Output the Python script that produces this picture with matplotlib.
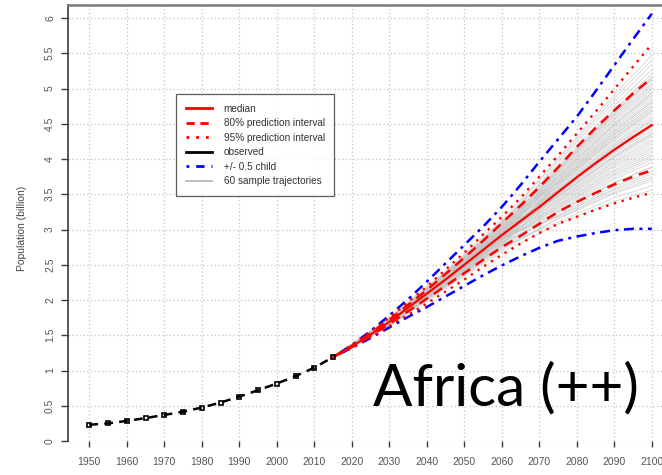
import matplotlib
matplotlib.use("Agg")
import matplotlib.pyplot as plt
from matplotlib.lines import Line2D

# ---------------- data ----------------
obs_years = [1950, 1955, 1960, 1965, 1970, 1975, 1980, 1985, 1990, 1995, 2000, 2005, 2010, 2015]
obs_pop = [0.23, 0.25, 0.285, 0.325, 0.37, 0.415, 0.475, 0.545, 0.63, 0.72, 0.815, 0.92, 1.04, 1.19]

proj_years = [2015, 2020, 2025, 2030, 2035, 2040, 2045, 2050, 2055, 2060,
              2065, 2070, 2075, 2080, 2085, 2090, 2095, 2100]
median = [1.19, 1.34, 1.51, 1.69, 1.89, 2.09, 2.29, 2.50, 2.71, 2.92, 3.12, 3.32, 3.53, 3.74, 3.94, 4.13, 4.31, 4.48]
pi80_low = [1.19, 1.33, 1.49, 1.66, 1.84, 2.02, 2.20, 2.38, 2.57, 2.75, 2.91, 3.08, 3.25, 3.39, 3.52, 3.64, 3.75, 3.84]
pi80_high = [1.19, 1.35, 1.53, 1.72, 1.93, 2.14, 2.37, 2.60, 2.84, 3.09, 3.34, 3.60, 3.88, 4.17, 4.44, 4.69, 4.93, 5.15]
pi95_low = [1.19, 1.32, 1.47, 1.63, 1.79, 1.95, 2.12, 2.29, 2.47, 2.64, 2.80, 2.95, 3.08, 3.18, 3.28, 3.37, 3.45, 3.52]
pi95_high = [1.19, 1.36, 1.55, 1.75, 1.97, 2.19, 2.43, 2.67, 2.93, 3.18, 3.45, 3.75, 4.05, 4.36, 4.67, 4.99, 5.31, 5.63]
child_high = [1.19, 1.36, 1.56, 1.78, 2.01, 2.26, 2.52, 2.78, 3.04, 3.32, 3.63, 3.96, 4.28, 4.60, 4.96, 5.33, 5.70, 6.06]
child_low = [1.19, 1.32, 1.46, 1.61, 1.76, 1.90, 2.05, 2.20, 2.35, 2.49, 2.62, 2.74, 2.84, 2.90, 2.95, 2.99, 3.01, 3.01]

traj_years = [2015, 2030, 2045, 2060, 2075, 2090, 2100]
trajectories = [
    [1.19, 1.63, 2.16, 2.68, 3.08, 3.40, 3.56],
    [1.19, 1.65, 2.21, 2.76, 3.11, 3.45, 3.62],
    [1.19, 1.64, 2.19, 2.73, 3.15, 3.51, 3.69],
    [1.19, 1.67, 2.24, 2.82, 3.18, 3.56, 3.75],
    [1.19, 1.65, 2.21, 2.78, 3.21, 3.61, 3.82],
    [1.19, 1.65, 2.20, 2.75, 3.24, 3.66, 3.89],
    [1.19, 1.67, 2.26, 2.86, 3.25, 3.67, 3.88],
    [1.19, 1.66, 2.22, 2.79, 3.27, 3.71, 3.95],
    [1.19, 1.68, 2.26, 2.87, 3.29, 3.74, 3.99],
    [1.19, 1.66, 2.23, 2.81, 3.31, 3.77, 4.02],
    [1.19, 1.67, 2.25, 2.84, 3.32, 3.79, 4.05],
    [1.19, 1.68, 2.27, 2.89, 3.34, 3.82, 4.08],
    [1.19, 1.67, 2.24, 2.82, 3.35, 3.84, 4.12],
    [1.19, 1.67, 2.26, 2.86, 3.37, 3.87, 4.15],
    [1.19, 1.69, 2.30, 2.94, 3.39, 3.90, 4.18],
    [1.19, 1.68, 2.26, 2.87, 3.40, 3.92, 4.22],
    [1.19, 1.67, 2.25, 2.84, 3.42, 3.95, 4.25],
    [1.19, 1.70, 2.31, 2.95, 3.43, 3.97, 4.28],
    [1.19, 1.68, 2.27, 2.89, 3.45, 4.00, 4.32],
    [1.19, 1.69, 2.29, 2.92, 3.47, 4.03, 4.35],
    [1.19, 1.69, 2.28, 2.90, 3.48, 4.05, 4.38],
    [1.19, 1.70, 2.32, 2.97, 3.50, 4.08, 4.41],
    [1.19, 1.68, 2.26, 2.87, 3.51, 4.10, 4.45],
    [1.19, 1.69, 2.30, 2.94, 3.53, 4.13, 4.48],
    [1.19, 1.71, 2.32, 2.98, 3.55, 4.16, 4.51],
    [1.19, 1.68, 2.27, 2.89, 3.56, 4.18, 4.55],
    [1.19, 1.70, 2.31, 2.95, 3.58, 4.21, 4.58],
    [1.19, 1.69, 2.29, 2.92, 3.59, 4.23, 4.61],
    [1.19, 1.71, 2.33, 3.00, 3.61, 4.26, 4.65],
    [1.19, 1.70, 2.32, 2.97, 3.63, 4.29, 4.68],
    [1.19, 1.69, 2.28, 2.90, 3.64, 4.31, 4.71],
    [1.19, 1.71, 2.34, 3.02, 3.66, 4.34, 4.74],
    [1.19, 1.70, 2.31, 2.95, 3.67, 4.36, 4.78],
    [1.19, 1.71, 2.32, 2.98, 3.69, 4.39, 4.81],
    [1.19, 1.72, 2.35, 3.03, 3.71, 4.42, 4.84],
    [1.19, 1.69, 2.30, 2.94, 3.72, 4.44, 4.88],
    [1.19, 1.71, 2.33, 3.00, 3.74, 4.47, 4.91],
    [1.19, 1.72, 2.36, 3.05, 3.75, 4.49, 4.94],
    [1.19, 1.70, 2.32, 2.97, 3.77, 4.52, 4.98],
    [1.19, 1.71, 2.34, 3.02, 3.79, 4.55, 5.01],
    [1.19, 1.73, 2.37, 3.06, 3.80, 4.57, 5.04],
    [1.19, 1.71, 2.32, 2.98, 3.82, 4.60, 5.07],
    [1.19, 1.73, 2.38, 3.08, 3.83, 4.62, 5.11],
    [1.19, 1.72, 2.35, 3.03, 3.85, 4.65, 5.14],
    [1.19, 1.74, 2.39, 3.11, 3.87, 4.68, 5.17],
    [1.19, 1.71, 2.33, 3.00, 3.88, 4.70, 5.21],
    [1.19, 1.73, 2.38, 3.10, 3.91, 4.75, 5.27],
    [1.19, 1.72, 2.36, 3.05, 3.95, 4.81, 5.34],
    [1.19, 1.75, 2.41, 3.14, 3.98, 4.86, 5.40],
    [1.19, 1.73, 2.38, 3.08, 4.01, 4.91, 5.47],
    [1.19, 1.64, 2.18, 2.71, 3.16, 3.53, 3.72],
    [1.19, 1.68, 2.27, 2.89, 3.19, 3.58, 3.79],
    [1.19, 1.71, 2.34, 3.02, 3.47, 4.03, 4.35],
    [1.19, 1.66, 2.22, 2.79, 3.53, 4.13, 4.48],
    [1.19, 1.73, 2.37, 3.06, 3.56, 4.18, 4.55],
    [1.19, 1.67, 2.25, 2.84, 3.63, 4.29, 4.68],
    [1.19, 1.73, 2.38, 3.10, 3.66, 4.34, 4.74],
    [1.19, 1.65, 2.21, 2.78, 3.69, 4.39, 4.81],
    [1.19, 1.69, 2.29, 2.92, 3.75, 4.49, 4.94],
    [1.19, 1.67, 2.26, 2.86, 3.85, 4.65, 5.14],
]

x_ticks = list(range(1950, 2101, 10))
y_ticks = [0, 0.5, 1, 1.5, 2, 2.5, 3, 3.5, 4, 4.5, 5, 5.5, 6]
y_tick_labels = ["0", "0.5", "1", "1.5", "2", "2.5", "3", "3.5", "4", "4.5", "5", "5.5", "6"]

legend_labels = ["median", "80% prediction interval", "95% prediction interval",
                 "observed", "+/- 0.5 child", "60 sample trajectories"]

# ---------------- figure ----------------
plt.rcParams['font.family'] = ['Liberation Sans', 'DejaVu Sans']
W, H = 662, 475
fig = plt.figure(figsize=(W / 100, H / 100), dpi=100)

left_px, top_px, bottom_px = 67.5, 4.5, 441.0
px_per_year = 3.75
x0 = 1950 - (89.3 - left_px) / px_per_year
x1 = x0 + 606 / px_per_year
ax = fig.add_axes([left_px / W, 1 - bottom_px / H, 606 / W, (bottom_px - top_px) / H])
ax.set_xlim(x0, x1)
ax.set_ylim(0, (bottom_px - top_px) / 70.5)

RED = "#ff0000"
BLUE = "#0000ff"

for tr in trajectories:
    ax.plot(traj_years, tr, color="#c4c4c4", lw=0.6, alpha=0.7, zorder=2)

ax.plot(proj_years, child_high, color=BLUE, lw=1.8, dashes=(1.2, 2.2, 4, 2.2), zorder=3)
ax.plot(proj_years, child_low, color=BLUE, lw=1.8, dashes=(1.2, 2.2, 4, 2.2), zorder=3)
ax.plot(proj_years, pi95_high, color=RED, lw=1.7, dashes=(1, 2.4), zorder=4)
ax.plot(proj_years, pi95_low, color=RED, lw=1.7, dashes=(1, 2.4), zorder=4)
ax.plot(proj_years, pi80_high, color=RED, lw=1.8, dashes=(4, 2.8), zorder=5)
ax.plot(proj_years, pi80_low, color=RED, lw=1.8, dashes=(4, 2.8), zorder=5)
ax.plot(proj_years, median, color=RED, lw=1.6, zorder=6)
ax.plot(obs_years, obs_pop, color="black", lw=1.8, dashes=(3.5, 2.5), marker="s",
        markersize=3.2, markerfacecolor="none", markeredgecolor="black", markeredgewidth=1.2,
        zorder=7)

# grid
ax.set_xticks(x_ticks)
ax.set_yticks(y_ticks)
ax.set_yticklabels(y_tick_labels)
ax.grid(True, color="#c4c4c4", linestyle=(0, (1, 2)), lw=0.9, zorder=0)
ax.set_axisbelow(True)

for s in ["bottom", "right"]:
    ax.spines[s].set_visible(False)
ax.spines["left"].set_color("#3a3a3a")
ax.spines["left"].set_linewidth(1.2)
ax.spines["top"].set_color("#7a7a7a")
ax.spines["top"].set_linewidth(1.8)

ax.tick_params(axis="y", direction="out", length=5, width=1.0, color="#3a3a3a",
               labelsize=7.5, labelcolor="#555555", pad=4)
for lab in ax.get_yticklabels():
    lab.set_rotation(90)
    lab.set_va("center")
ax.tick_params(axis="x", direction="out", length=4.3, width=1.0, color="#3a3a3a",
               labelsize=7.5, labelcolor="#555555", pad=7)

fig.text(22 / W, 1 - 228 / H, "Population (billion)", rotation=90, ha="center", va="center",
         fontsize=7.5, color="#444444")

handles = [
    Line2D([], [], color=RED, lw=2.0),
    Line2D([], [], color=RED, lw=2.0, dashes=(3, 2)),
    Line2D([], [], color=RED, lw=2.0, dashes=(1, 2.5)),
    Line2D([], [], color="black", lw=2.0),
    Line2D([], [], color=BLUE, lw=2.0, dashes=(1, 2.5, 3, 2.5)),
    Line2D([], [], color="#b0b0b0", lw=1.2),
]
leg = ax.legend(handles, legend_labels, loc="upper left",
                bbox_to_anchor=((176 - left_px) / 606, 1 - (94.5 - top_px) / (bottom_px - top_px)),
                fontsize=7.2, frameon=True, fancybox=False, edgecolor="#333333",
                handlelength=2.6, handletextpad=1.2, labelspacing=0.45, borderpad=0.95,
                borderaxespad=0)
leg.get_frame().set_linewidth(0.9)
for t in leg.get_texts():
    t.set_color("#333333")

fig.text(373 / W, 1 - 405 / H, "Africa (++)", fontsize=42, family=["Lato", "DejaVu Sans"],
         ha="left", va="baseline", color="black")

fig.savefig("out.png", dpi=100)
